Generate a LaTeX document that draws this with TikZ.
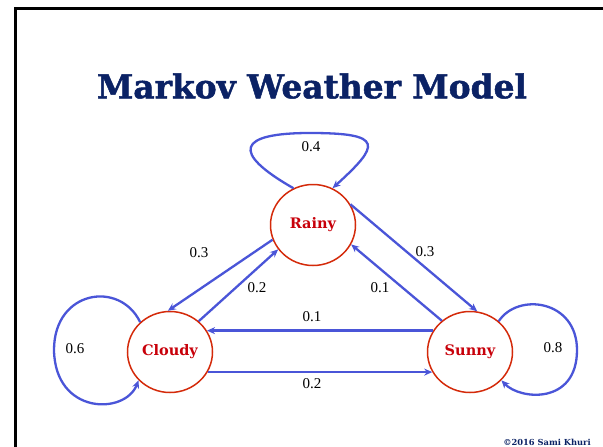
\documentclass[tikz,border=0pt]{standalone}
\usepackage{fontspec}
\setmainfont{Liberation Serif}
\newfontfamily\slabfont{DejaVu Serif Bold}[FakeBold=1.5]
\newfontfamily\slablbl{DejaVu Serif Bold}
\usetikzlibrary{arrows.meta,shapes.geometric}
\definecolor{navy}{HTML}{0B2265}
\definecolor{stred}{HTML}{D42A0A}
\definecolor{lblred}{HTML}{C8000A}
\definecolor{arrblue}{HTML}{4A55D8}
\begin{document}
\begin{tikzpicture}[x=1pt,y=-1pt,
  state/.style={ellipse,draw=stred,line width=1.5pt,minimum width=85pt,minimum height=81pt,inner sep=0pt,
    text=lblred,font=\slablbl\fontsize{14.5}{16}\selectfont},
  trans/.style={draw=arrblue,line width=2.3pt,-{Stealth[length=8pt,width=7pt]}},
  prob/.style={font=\fontsize{15}{17}\selectfont,inner sep=0pt}]
\useasboundingbox (0,0) rectangle (603,447);
\fill[white] (0,0) rectangle (603,447);
\draw[line width=3pt] (15,447) -- (15,8) -- (603,8);
\node[text=navy,inner sep=0pt] (title) at (312,86) {\resizebox{430pt}{!}{\slabfont Markov Weather Model}};
\node[state] (r) at (313,225) {Rainy};
\node[state] (c) at (170,352) {Cloudy};
\node[state] (s) at (470,352) {Sunny};
% self loops
\draw[trans] (r.118) .. controls (230,152) and (238,133) .. (310,133) .. controls (385,133) and (380,145) .. (r.62);
\draw[trans] (c.135) .. controls (120,280) and (54,290) .. (54,350) .. controls (55,415) and (125,415) .. (c.222);
\draw[trans] (s.47) .. controls (518,292) and (577,300) .. (577,350) .. controls (577,405) and (520,400) .. (s.318);
% straight transitions
\draw[trans] (r.200) -- (c.93);
\draw[trans] (c.47) -- (r.215);
\draw[trans] (r.29) -- (s.80);
\draw[trans] (s.132) -- (r.333);
\draw[trans] (s.150) -- (c.30);
\draw[trans] (c.332) -- (s.208);
% labels
\node[prob] (p4) at (311,147) {0.4};
\node[prob] (p6) at (75,349) {0.6};
\node[prob] (p8) at (553,348) {0.8};
\node[prob] (prc) at (199,253) {0.3};
\node[prob] (pcr) at (257,288) {0.2};
\node[prob] (prs) at (425,252) {0.3};
\node[prob] (psr) at (380,288) {0.1};
\node[prob] (psc) at (312,317) {0.1};
\node[prob] (pcs) at (312,384) {0.2};
\node[text=navy,inner sep=0pt,font=\slablbl\fontsize{8.3}{9}\selectfont] (copy) at (547,442) {©2016 Sami Khuri};
\end{tikzpicture}
\end{document}
